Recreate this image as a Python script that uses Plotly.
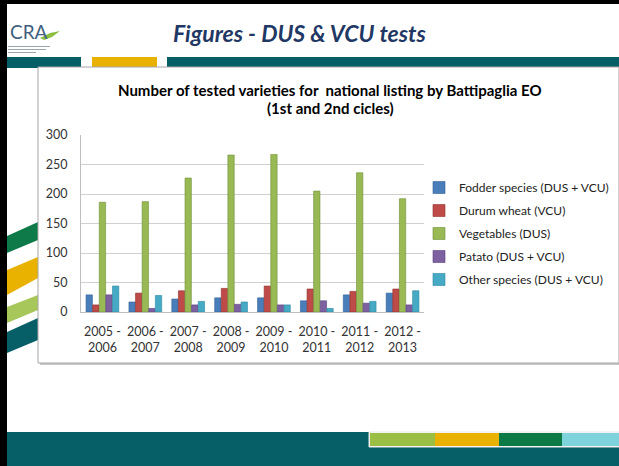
import plotly.graph_objects as go

# ---------------- data ----------------
seasons = ["2005 -<br>2006", "2006 -<br>2007", "2007 -<br>2008", "2008 -<br>2009",
           "2009 -<br>2010", "2010 -<br>2011", "2011 -<br>2012", "2012 -<br>2013"]
fodder = [29, 17, 22, 24, 24, 19, 29, 32]
durum = [12, 32, 36, 40, 44, 39, 35, 39]
vegetables = [186, 187, 227, 266, 267, 205, 236, 192]
potato = [29, 6, 12, 13, 12, 19, 15, 12]
other = [44, 28, 18, 17, 12, 6, 18, 36]

series_names = ["Fodder species (DUS + VCU)", "Durum wheat (VCU)", "Vegetables (DUS)",
                "Patato (DUS + VCU)", "Other species (DUS + VCU)"]
series_values = [fodder, durum, vegetables, potato, other]
series_colors = ["#4A7EBB", "#BE4B48", "#98B954", "#7D60A0", "#46AAC5"]
series_lines = ["#2F5F96", "#8E2F2C", "#6F8E35", "#5A4180", "#2A87A2"]

# ---------------- geometry helpers (pixel -> paper) ----------------
W, H = 619, 466
PL, PR, PT, PB = 81, 424, 135, 312


def px(x):
    return (x - PL) / (PR - PL)


def py(y):
    return (PB - y) / (PB - PT)


fig = go.Figure()
for i, (name, vals, col, lc) in enumerate(zip(series_names, series_values, series_colors, series_lines)):
    fig.add_trace(go.Bar(
        x=seasons, y=vals, name=name, legendgroup=f"g{i}",
        marker=dict(color=col, line=dict(color=lc, width=0.6)),
    ))

shapes = []


def rect(x0, y0, x1, y1, fill, line=None, lw=0, layer="below"):
    shapes.append(dict(type="rect", xref="paper", yref="paper",
                       x0=px(x0), x1=px(x1), y0=py(y1), y1=py(y0),
                       fillcolor=fill, line=dict(color=line or fill, width=lw), layer=layer))


def poly(points, fill, layer="below"):
    d = "M " + " L ".join(f"{px(a):.5f},{py(b):.5f}" for a, b in points) + " Z"
    shapes.append(dict(type="path", xref="paper", yref="paper", path=d,
                       fillcolor=fill, line=dict(width=0), layer=layer))


# slide borders
rect(0, 0, 7, 466, "#000000")
rect(0, 0, 619, 4, "#000000")

# top band
rect(7, 57, 81, 68, "#065E66")
rect(92, 57, 157, 68, "#E9B100")
rect(167, 57, 619, 67, "#065E66")

# left swooshes
poly([(7, 236), (38, 222), (38, 240), (7, 253)], "#0E7A4A")
poly([(7, 270), (38, 257), (38, 278), (7, 295)], "#E9B100")
poly([(7, 307), (38, 295), (38, 310), (7, 323)], "#A7C75A")
poly([(7, 332), (38, 318), (38, 340), (7, 353)], "#065E66")

# chart box (with shadow)
rect(40, 69, 619, 365, "#C8C8C8")
rect(38, 67, 619, 363, "#FFFFFF", line="#A6A6A6", lw=1)

# bottom band
rect(7, 432, 619, 466, "#065E66")
rect(369, 432, 619, 447, "#FFFFFF", line="#E6E6E6", lw=1)
rect(370, 433, 435, 446, "#9BBE44")
rect(435, 433, 499, 446, "#E9B100")
rect(499, 433, 562, 446, "#0D7A45")
rect(562, 433, 619, 446, "#7FD3DC")

# logo pieces
poly([(40, 38), (50, 33), (60, 31), (52, 37), (44, 40)], "#8DBE3F")
for yy, x1 in [(46, 50), (49, 46), (52, 36)]:
    rect(8, yy, x1, yy + 1, "#9AA5B0")

annotations = [
    dict(text="CRA", x=px(8), y=py(31), xref="paper", yref="paper", xanchor="left", yanchor="middle",
         showarrow=False, font=dict(family="Lato", size=19, color="#3F5F80")),
    dict(text="<b><i>Figures - DUS &amp; VCU tests</i></b>", x=px(300), y=py(33), xref="paper", yref="paper",
         xanchor="center", yanchor="middle", showarrow=False,
         font=dict(family="Lato", size=23, color="#1F3864")),
    dict(text="<b>Number of tested varieties for  national listing by Battipaglia EO</b>",
         x=px(330), y=py(90), xref="paper", yref="paper", xanchor="center", yanchor="middle",
         showarrow=False, font=dict(family="Lato", size=15, color="#000000")),
    dict(text="<b>(1st and 2nd cicles)</b>",
         x=px(330), y=py(108), xref="paper", yref="paper", xanchor="center", yanchor="middle",
         showarrow=False, font=dict(family="Lato", size=15, color="#000000")),
]

fig.update_layout(
    width=W, height=H, autosize=False,
    margin=dict(l=PL, r=W - PR, t=PT, b=H - PB, autoexpand=False),
    paper_bgcolor="#FFFFFF", plot_bgcolor="rgba(0,0,0,0)",
    barmode="group", bargap=0.23, bargroupgap=0.04,
    font=dict(family="Lato", size=12, color="#333333"),
    shapes=shapes, annotations=annotations,
    showlegend=True,
    legend=dict(x=px(419), y=py(173), xanchor="left", yanchor="top",
                font=dict(family="Lato", size=12, color="#222222"),
                tracegroupgap=4, bgcolor="rgba(0,0,0,0)", itemclick=False),
    xaxis=dict(showgrid=False, showline=True, linecolor="#BFBFBF", linewidth=1,
               ticks="", ticklabelstandoff=8, tickfont=dict(size=12.5, color="#333333"), fixedrange=True),
    yaxis=dict(range=[0, 300], dtick=50, showgrid=True, gridcolor="#D0D0D0", gridwidth=1,
               showline=True, linecolor="#BFBFBF", zeroline=False, ticks="",
               ticklabelstandoff=10, tickfont=dict(size=12.5, color="#333333"), fixedrange=True),
)

fig.write_html(
    "out.html",
    config={"displayModeBar": False, "responsive": False},
    post_script="document.body.style.margin='0';document.body.style.overflow='hidden';",
)
